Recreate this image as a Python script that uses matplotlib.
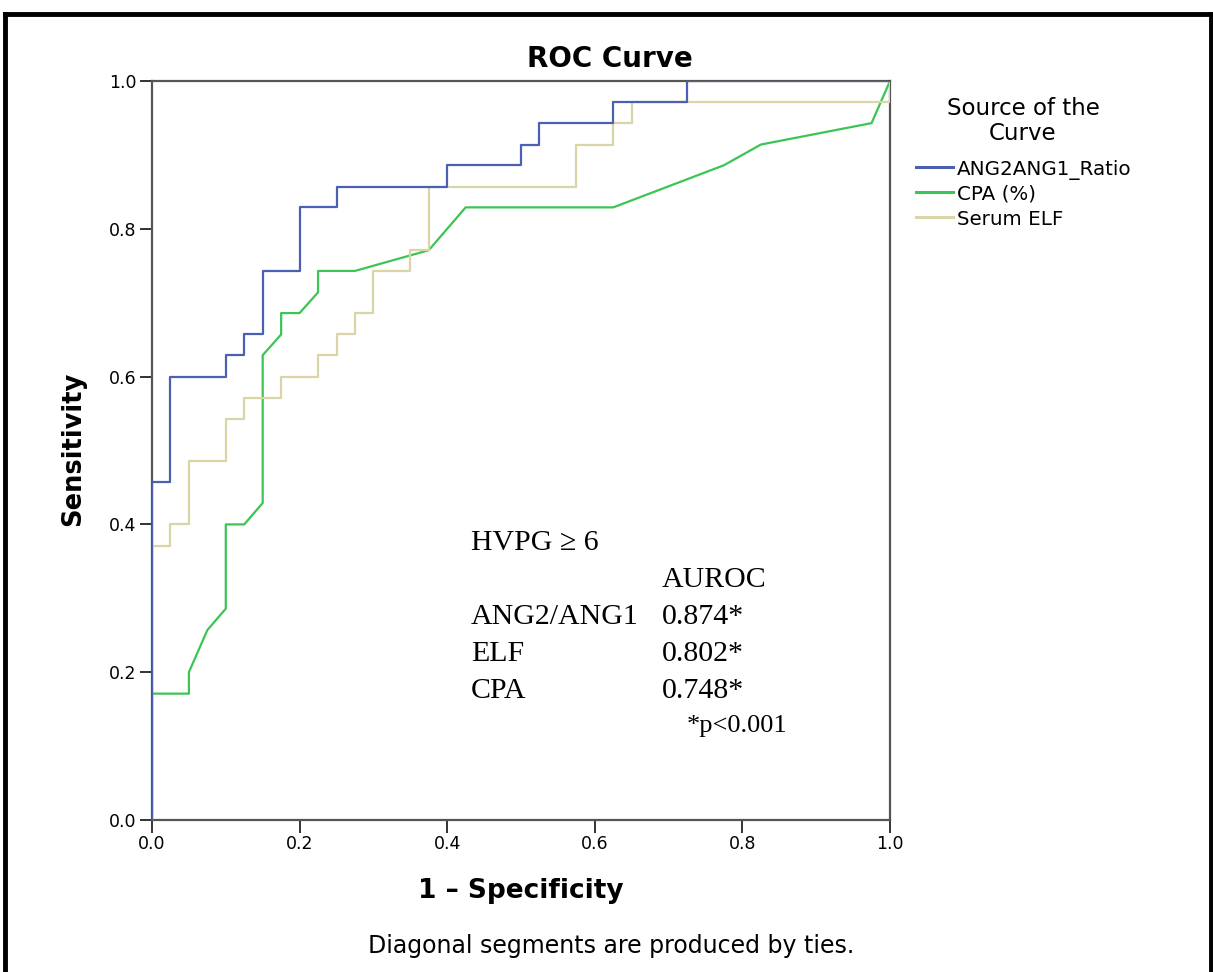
import matplotlib
matplotlib.use("Agg")
import matplotlib.pyplot as plt
from matplotlib.lines import Line2D

# ROC coordinates (1 - specificity, sensitivity)
ang_fpr = [0.0, 0.0, 0.025, 0.025, 0.1, 0.1, 0.125, 0.125, 0.15, 0.15, 0.2, 0.2,
           0.25, 0.25, 0.4, 0.4, 0.5, 0.5, 0.525, 0.525, 0.625, 0.625, 0.725, 0.725, 1.0]
ang_tpr = [0.0, 0.457, 0.457, 0.6, 0.6, 0.629, 0.629, 0.657, 0.657, 0.743, 0.743, 0.829,
           0.829, 0.857, 0.857, 0.886, 0.886, 0.914, 0.914, 0.943, 0.943, 0.971, 0.971, 1.0, 1.0]

cpa_fpr = [0.0, 0.0, 0.05, 0.05, 0.075, 0.1, 0.1, 0.125, 0.15, 0.15, 0.175, 0.175, 0.2,
           0.225, 0.225, 0.275, 0.375, 0.425, 0.625, 0.775, 0.825, 0.975, 1.0]
cpa_tpr = [0.0, 0.171, 0.171, 0.2, 0.257, 0.286, 0.4, 0.4, 0.429, 0.629, 0.657, 0.686, 0.686,
           0.714, 0.743, 0.743, 0.771, 0.829, 0.829, 0.886, 0.914, 0.943, 1.0]

elf_fpr = [0.0, 0.0, 0.025, 0.025, 0.05, 0.05, 0.1, 0.1, 0.125, 0.125, 0.175, 0.175,
           0.225, 0.225, 0.25, 0.25, 0.275, 0.275, 0.3, 0.3, 0.35, 0.35, 0.375, 0.375,
           0.575, 0.575, 0.625, 0.625, 0.65, 0.65, 1.0, 1.0]
elf_tpr = [0.0, 0.371, 0.371, 0.4, 0.4, 0.486, 0.486, 0.543, 0.543, 0.571, 0.571, 0.6,
           0.6, 0.629, 0.629, 0.657, 0.657, 0.686, 0.686, 0.743, 0.743, 0.771, 0.771, 0.857,
           0.857, 0.914, 0.914, 0.943, 0.943, 0.971, 0.971, 1.0]

series_names = ["ANG2ANG1_Ratio", "CPA (%)", "Serum ELF"]
series_colors = ["#4b5fb3", "#3cc455", "#d9d5a6"]

auroc_labels = ["ANG2/ANG1", "ELF", "CPA"]
auroc_values = ["0.874*", "0.802*", "0.748*"]

ticks = [0.0, 0.2, 0.4, 0.6, 0.8, 1.0]
sans = ["DejaVu Sans"]
serif = ["Liberation Serif", "DejaVu Serif"]

W, H = 1213, 972
fig = plt.figure(figsize=(W / 100, H / 100), dpi=100)


def fx(px):
    return px / W


def fy(py):
    return 1 - py / H


ax = fig.add_axes([fx(152), fy(820), 738 / W, 739 / H])

# curves: blue drawn last so it sits on top at the shared left edge
ax.plot(cpa_fpr, cpa_tpr, color=series_colors[1], lw=1.6, zorder=3)
ax.plot(elf_fpr, elf_tpr, color=series_colors[2], lw=1.6, zorder=3)
ax.plot(ang_fpr, ang_tpr, color=series_colors[0], lw=1.6, zorder=4)

ax.set_xlim(0, 1)
ax.set_ylim(0, 1)
ax.set_xticks(ticks)
ax.set_yticks(ticks)
ax.set_xticklabels([f"{t:.1f}" for t in ticks], fontfamily=sans, fontsize=12.5)
ax.set_yticklabels([f"{t:.1f}" for t in ticks], fontfamily=sans, fontsize=12.5)
ax.tick_params(direction="out", length=9, width=1.4, color="#333333", pad=2)
for sp in ax.spines.values():
    sp.set_linewidth(1.6)
    sp.set_color("#555555")

fig.text(fx(521), fy(898), "1 – Specificity", ha="center", va="baseline",
         fontfamily=sans, fontsize=19, fontweight="bold")
fig.text(fx(73), fy(449), "Sensitivity", ha="center", va="center", rotation=90,
         fontfamily=sans, fontsize=18.5, fontweight="bold")
fig.text(fx(610), fy(67), "ROC Curve", ha="center", va="baseline",
         fontfamily=sans, fontsize=20, fontweight="bold")
fig.text(fx(611), fy(953), "Diagonal segments are produced by ties.", ha="center",
         va="baseline", fontfamily=sans, fontsize=17)

# legend
fig.text(fx(1023), fy(115), "Source of the", ha="center", va="baseline",
         fontfamily=sans, fontsize=16.5)
fig.text(fx(1023), fy(140), "Curve", ha="center", va="baseline",
         fontfamily=sans, fontsize=16.5)
for i, (name, col) in enumerate(zip(series_names, series_colors)):
    base = 175 + i * 25
    fig.add_artist(Line2D([fx(916), fx(953)], [fy(base - 8), fy(base - 8)],
                          color=col, lw=2.2, transform=fig.transFigure))
    fig.text(fx(957), fy(base), name, ha="left", va="baseline",
             fontfamily=sans, fontsize=14.3)

# annotation block
fig.text(fx(471), fy(550), "HVPG ≥ 6", fontfamily=serif, fontsize=21.5, va="baseline")
fig.text(fx(662), fy(587), "AUROC", fontfamily=serif, fontsize=21.5, va="baseline")
for i, (lab, val) in enumerate(zip(auroc_labels, auroc_values)):
    base = 624 + i * 37
    fig.text(fx(471), fy(base), lab, fontfamily=serif, fontsize=21.5, va="baseline")
    fig.text(fx(662), fy(base), val, fontfamily=serif, fontsize=21.5, va="baseline")
fig.text(fx(687), fy(732), "*p<0.001", fontfamily=serif, fontsize=19, va="baseline")

# outer frame
frame_kw = dict(color="black", lw=3.5, transform=fig.transFigure, clip_on=False)
fig.add_artist(Line2D([fx(5), fx(1211)], [fy(14), fy(14)], **frame_kw))
fig.add_artist(Line2D([fx(5), fx(5)], [fy(14), 0], **frame_kw))
fig.add_artist(Line2D([fx(1211), fx(1211)], [fy(14), 0], **frame_kw))

fig.savefig("out.png", dpi=100)
